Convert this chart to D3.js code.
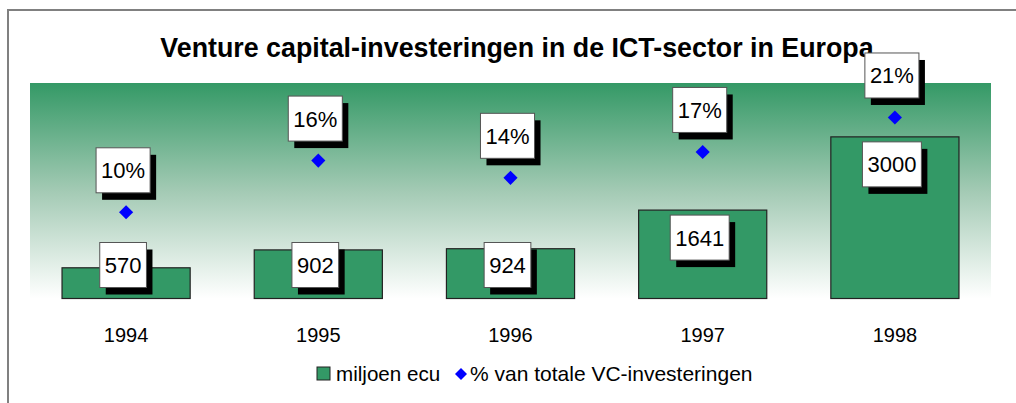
<!DOCTYPE html>
<html><head><meta charset="utf-8">
<script src="https://cdn.jsdelivr.net/npm/d3@7"></script>
<style>html,body{margin:0;padding:0;background:#fff;overflow:hidden}</style>
</head><body>
<svg id="chart" width="1016" height="403"></svg>
<script>
const title = "Venture capital-investeringen in de ICT-sector in Europa";
const years = ["1994", "1995", "1996", "1997", "1998"];
const amounts = [570, 902, 924, 1641, 3000];
const shares = [0.10, 0.16, 0.14, 0.17, 0.21];
const amountLabels = ["570", "902", "924", "1641", "3000"];
const shareLabels = ["10%", "16%", "14%", "17%", "21%"];
const legendLabels = ["miljoen ecu", "% van totale VC-investeringen"];

const FONT = "'Liberation Sans', Arial, sans-serif";
const svg = d3.select("#chart");

// outer chart border
svg.append("rect").attr("x", 8).attr("y", 10).attr("width", 1100).attr("height", 600)
  .attr("fill", "none").attr("stroke", "#808080").attr("stroke-width", 2);

const plot = {left: 30, right: 991, top: 83, bottom: 298.5};

const defs = svg.append("defs");
const grad = defs.append("linearGradient").attr("id", "bg").attr("x1", 0).attr("y1", 0).attr("x2", 0).attr("y2", 1);
grad.append("stop").attr("offset", "0%").attr("stop-color", "#349966");
grad.append("stop").attr("offset", "50%").attr("stop-color", "#a3cab4");
grad.append("stop").attr("offset", "100%").attr("stop-color", "#ffffff");

svg.append("rect").attr("x", plot.left).attr("y", plot.top)
  .attr("width", plot.right - plot.left).attr("height", plot.bottom - plot.top)
  .attr("fill", "url(#bg)");

// title (drawn beneath data labels)
svg.append("text").attr("x", 517).attr("y", 57).attr("text-anchor", "middle")
  .attr("font-family", FONT).attr("font-size", 26.8).attr("font-weight", "bold").text(title);

const x = d3.scaleBand().domain(years).range([plot.left, plot.right]).paddingInner(1/3).paddingOuter(1/6);
const y = d3.scaleLinear().domain([0, 4000]).range([plot.bottom, plot.top]);
const y2 = d3.scaleLinear().domain([0, 0.25]).range([plot.bottom, plot.top]);

// bars
svg.append("g").selectAll("rect").data(amounts).join("rect")
  .attr("x", (d, i) => x(years[i]))
  .attr("y", d => y(d))
  .attr("width", x.bandwidth())
  .attr("height", d => y(0) - y(d))
  .attr("fill", "#339966").attr("stroke", "#222").attr("stroke-width", 1.2);

// diamonds
svg.append("g").selectAll("path").data(shares).join("path")
  .attr("transform", (d, i) => `translate(${x(years[i]) + x.bandwidth()/2},${y2(d)}) rotate(45)`)
  .attr("d", d3.symbol().type(d3.symbolSquare).size(100)())
  .attr("fill", "#0000ff");

// category axis labels
const xAxis = d3.axisBottom(x).tickSize(0).tickPadding(0);
const gx = svg.append("g").attr("transform", `translate(0,${342})`).call(xAxis);
gx.select(".domain").remove();
gx.selectAll("text").attr("dy", 0).attr("y", 0).attr("font-family", FONT).attr("font-size", 20).attr("fill", "#000");

// label boxes
function labelBox(cx, top, txt) {
  const g = svg.append("g");
  const t = g.append("text").text(txt).attr("font-family", FONT).attr("font-size", 22).attr("fill", "#000");
  const w = t.node().getComputedTextLength() + 10;
  const h = 45, sx = 6, sy = 7;
  const left = cx - (w + sx) / 2;
  g.insert("rect", "text").attr("x", left + sx).attr("y", top + sy).attr("width", w).attr("height", h).attr("fill", "#000");
  g.insert("rect", "text").attr("x", left).attr("y", top).attr("width", w).attr("height", h)
    .attr("fill", "#fff").attr("stroke", "#555").attr("stroke-width", 1);
  t.attr("x", left + w / 2).attr("y", top + h / 2 + 8).attr("text-anchor", "middle");
}
amounts.forEach((d, i) => {
  const cx = x(years[i]) + x.bandwidth() / 2;
  labelBox(cx, Math.min(y(d) + 5, y(0) - 56), amountLabels[i]);
});
shares.forEach((d, i) => {
  const cx = x(years[i]) + x.bandwidth() / 2;
  labelBox(cx, y2(d) - 64.5, shareLabels[i]);
});

// legend
const lg = svg.append("g");
lg.append("rect").attr("x", 317).attr("y", 367).attr("width", 13).attr("height", 13)
  .attr("fill", "#339966").attr("stroke", "#222").attr("stroke-width", 1);
lg.append("text").attr("x", 336).attr("y", 381).attr("font-family", FONT).attr("font-size", 20.6).text(legendLabels[0]);
lg.append("path").attr("transform", "translate(461,374) rotate(45)")
  .attr("d", d3.symbol().type(d3.symbolSquare).size(72)()).attr("fill", "#0000ff");
lg.append("text").attr("x", 470).attr("y", 381).attr("font-family", FONT).attr("font-size", 21).text(legendLabels[1]);
</script>
</body></html>
